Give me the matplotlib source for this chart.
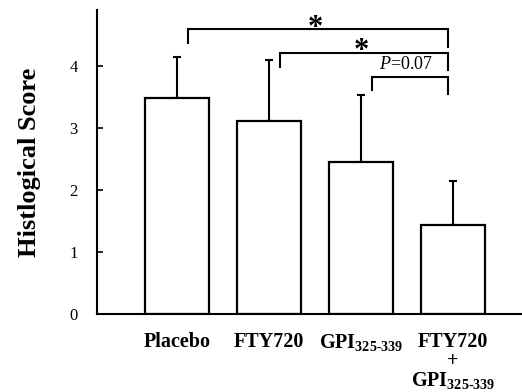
import matplotlib
matplotlib.use('Agg')
import matplotlib.pyplot as plt
import numpy as np

plt.rcParams['font.family'] = 'Liberation Serif'
plt.rcParams['mathtext.fontset'] = 'custom'
plt.rcParams['mathtext.rm'] = 'Liberation Serif'
plt.rcParams['mathtext.it'] = 'Liberation Serif:italic'
plt.rcParams['mathtext.bf'] = 'Liberation Serif:bold'

# data
groups = ['Placebo', 'FTY720', r'GPI$_{\mathbf{325\text{-}339}}$',
          'FTY720\n+\n' + r'GPI$_{\mathbf{325\text{-}339}}$']
scores = [3.48, 3.12, 2.45, 1.44]
err_up = [0.67, 0.97, 1.09, 0.71]

# significance brackets: (left bar, right bar), height, label
pairs = [(0, 3), (1, 3), (2, 3)]
bracket_y = [4.59, 4.21, 3.83]
bracket_txt = ['*', '*', r'$P$=0.07']

fig = plt.figure(figsize=(5.22, 3.92), dpi=100)
ax = fig.add_axes([0.186, 0.199, 0.814, 0.775])

x = np.arange(len(scores))
ax.bar(x, scores, width=0.7, color='white', edgecolor='black', linewidth=1.6, zorder=2)
ax.errorbar(x, scores, yerr=[np.zeros(len(err_up)), err_up], fmt='none',
            ecolor='black', elinewidth=1.5, capsize=3.2, capthick=1.5, zorder=1)

for (a, b), h, t in zip(pairs, bracket_y, bracket_txt):
    xl = a + 0.12
    xr = b - 0.06
    ax.plot([xl, xl, xr, xr], [h - 0.22, h, h, h - 0.28], color='black', lw=1.5,
            solid_joinstyle='miter', clip_on=False)
    if t == '*':
        ax.text((xl + xr) / 2 - 0.03, h - 0.10, t, ha='center', va='baseline',
                fontsize=22, fontweight='bold')
    else:
        ax.text(xr - 0.45, h + 0.05, t, ha='center', va='bottom', fontsize=13)

ax.set_xlim(-0.87, 3.75)
ax.set_ylim(0, 4.9)
ax.set_yticks([0, 1, 2, 3, 4])
ax.tick_params(axis='y', direction='in', length=4, width=1.2, labelsize=12, pad=14)
ax.set_xticks(x)
ax.set_xticklabels(groups, fontsize=14.5, fontweight='bold', va='top', linespacing=0.95)
ax.tick_params(axis='x', length=0, pad=13)
for s in ['top', 'right']:
    ax.spines[s].set_visible(False)
ax.spines['left'].set_linewidth(1.5)
ax.spines['bottom'].set_linewidth(1.5)

ax.set_ylabel('Histlogical Score', fontsize=19, fontweight='bold', labelpad=20)

fig.savefig('out.png', dpi=100)
